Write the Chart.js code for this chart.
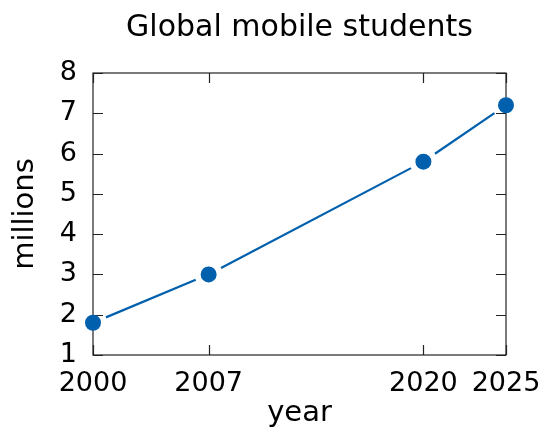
<!DOCTYPE html>
<html>
<head>
<meta charset="utf-8">
<script src="https://cdn.jsdelivr.net/npm/chart.js@4"></script>
<style>
  html, body { margin: 0; padding: 0; background: #fff; }
  #wrap { width: 543px; height: 432px; }
</style>
</head>
<body>
<div id="wrap"><canvas id="lineChart"></canvas></div>
<script>
const years = [2000, 2007, 2020, 2025];
const students = [1.8, 3.0, 5.8, 7.2];   // millions
const xTicks = [2000, 2007, 2020, 2025];
const yTicks = [1, 2, 3, 4, 5, 6, 7, 8];
const titleText = "Global mobile students";

const lineColor = "#0060ad";
const font = "DejaVu Sans";

// gnuplot-like frame with ticks pointing inward, line with gaps at points
const frame = {
    id: "frame",
    beforeDatasetsDraw(chart) {
        const { ctx, chartArea: a, scales } = chart;
        ctx.save();
        ctx.strokeStyle = "#222";
        ctx.lineWidth = 1.2;
        ctx.strokeRect(a.left, a.top, a.right - a.left, a.bottom - a.top);
        const len = 10;
        ctx.beginPath();
        xTicks.forEach(v => {
            const x = Math.round(scales.x.getPixelForValue(v)) + 0.5;
            ctx.moveTo(x, a.bottom); ctx.lineTo(x, a.bottom - len);
            ctx.moveTo(x, a.top); ctx.lineTo(x, a.top + len);
        });
        yTicks.forEach(v => {
            const y = Math.round(scales.y.getPixelForValue(v)) + 0.5;
            ctx.moveTo(a.left, y); ctx.lineTo(a.left + len, y);
            ctx.moveTo(a.right, y); ctx.lineTo(a.right - len, y);
        });
        ctx.stroke();

        // connecting line, cut short near each point
        const pts = chart.getDatasetMeta(0).data;
        const gap = 14;
        ctx.strokeStyle = lineColor;
        ctx.lineWidth = 2.2;
        ctx.beginPath();
        for (let i = 0; i < pts.length - 1; i++) {
            const p = pts[i], q = pts[i + 1];
            const dx = q.x - p.x, dy = q.y - p.y;
            const d = Math.hypot(dx, dy);
            if (d <= 2 * gap) continue;
            const ux = dx / d, uy = dy / d;
            ctx.moveTo(p.x + ux * gap, p.y + uy * gap);
            ctx.lineTo(q.x - ux * gap, q.y - uy * gap);
        }
        ctx.stroke();
        ctx.restore();
    },
    afterDraw(chart) {
        // title centred over the plot box, like gnuplot does
        const { ctx, chartArea: a } = chart;
        ctx.save();
        ctx.fillStyle = "#000";
        ctx.font = "30px '" + font + "'";
        ctx.textAlign = "center";
        ctx.textBaseline = "middle";
        ctx.fillText(titleText, (a.left + a.right) / 2, 28);
        ctx.restore();
    }
};

new Chart(document.getElementById("lineChart"), {
    type: "scatter",
    data: {
        datasets: [{
            data: years.map((y, i) => ({ x: y, y: students[i] })),
            showLine: false,
            pointRadius: 8,
            pointHoverRadius: 8,
            pointBackgroundColor: lineColor,
            pointBorderColor: lineColor,
            pointBorderWidth: 0,
            clip: false
        }]
    },
    options: {
        responsive: true,
        maintainAspectRatio: false,
        animation: false,
        events: [],
        layout: { padding: { top: 73, right: 37, bottom: 0, left: 0 } },
        plugins: {
            legend: { display: false },
            tooltip: { enabled: false },
            title: { display: false }
        },
        scales: {
            x: {
                type: "linear",
                min: 2000,
                max: 2025,
                afterBuildTicks: s => { s.ticks = xTicks.map(v => ({ value: v })); },
                afterFit: s => { s.height = 77; s.paddingLeft = 0; s.paddingRight = 0; },
                grid: { display: false, drawTicks: false },
                border: { display: false },
                ticks: {
                    color: "#000",
                    font: { family: font, size: 27 },
                    padding: 13,
                    maxRotation: 0,
                    callback: v => String(v)
                },
                title: {
                    display: true,
                    text: "year",
                    color: "#000",
                    font: { family: font, size: 29 },
                    padding: { top: 0, bottom: 1 }
                }
            },
            y: {
                type: "linear",
                min: 1,
                max: 8,
                afterBuildTicks: s => { s.ticks = yTicks.map(v => ({ value: v })); },
                afterFit: s => { s.width = 93; s.paddingTop = 0; s.paddingBottom = 0; },
                grid: { display: false, drawTicks: false },
                border: { display: false },
                ticks: {
                    color: "#000",
                    font: { family: font, size: 27 },
                    padding: 16
                },
                title: {
                    display: true,
                    text: "millions",
                    color: "#000",
                    font: { family: font, size: 29 },
                    padding: { top: 8, bottom: 0 }
                }
            }
        }
    },
    plugins: [frame]
});
</script>
</body>
</html>
